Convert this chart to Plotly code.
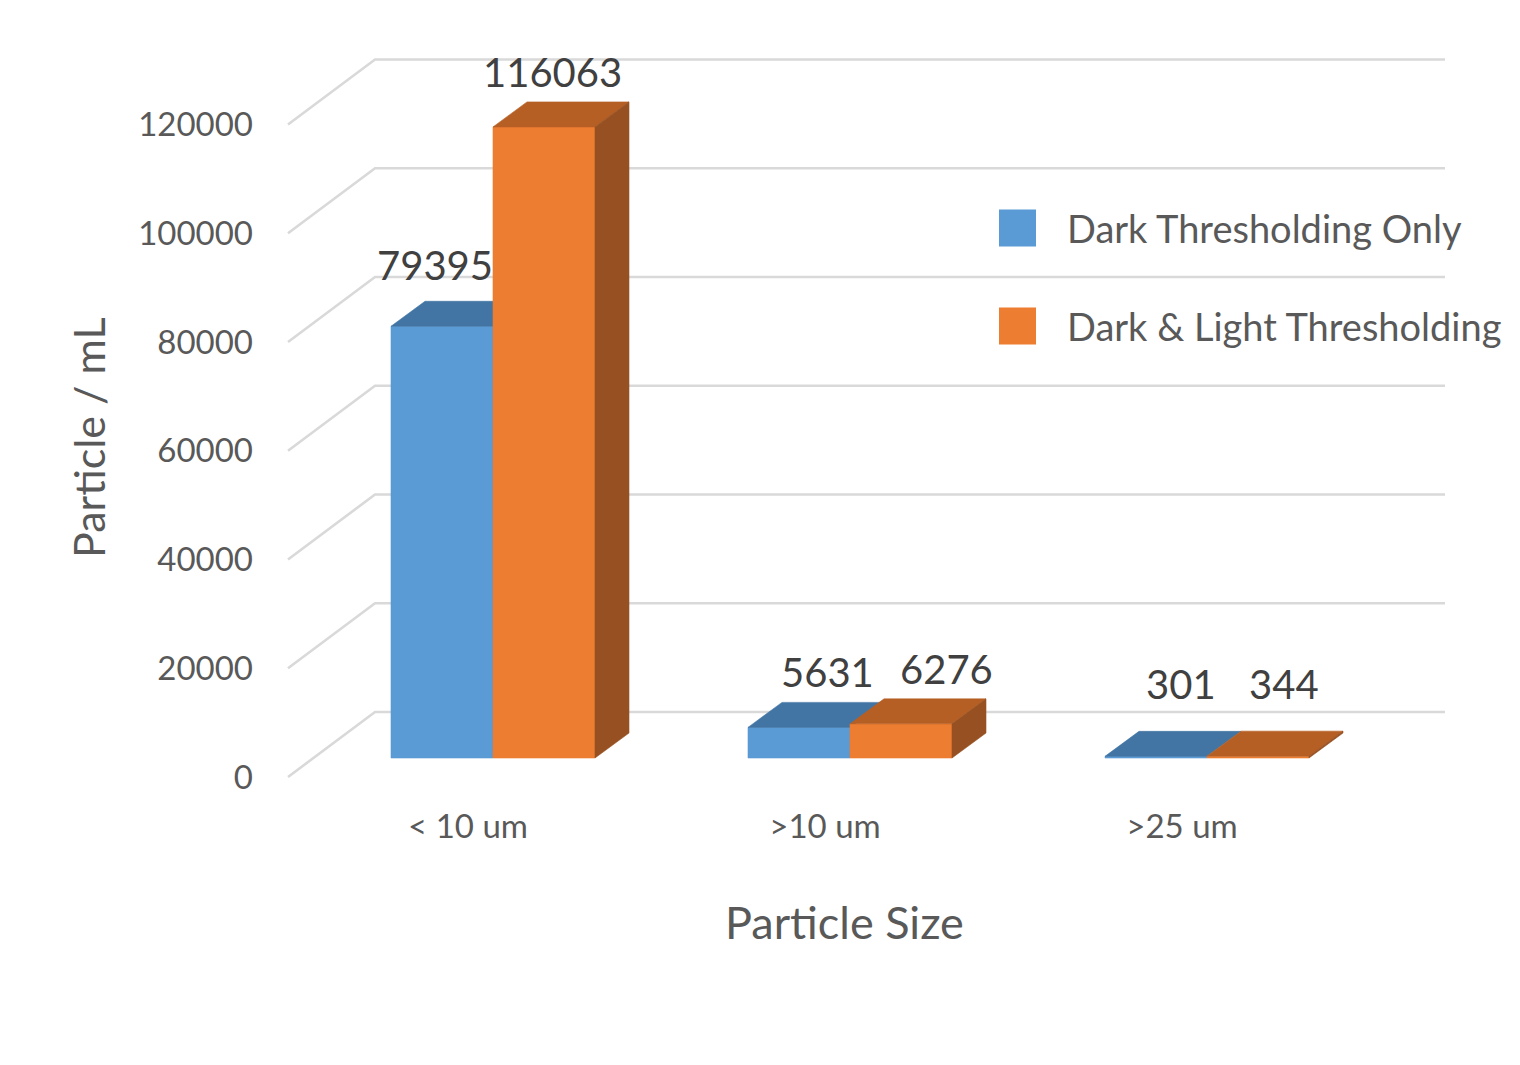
import plotly.graph_objects as go

# ---------------- data ----------------
categories = ["< 10 um", ">10 um", ">25 um"]
series_names = ["Dark Thresholding Only", "Dark & Light Thresholding"]
dark_only = [79395, 5631, 301]
dark_light = [116063, 6276, 344]
y_tick_values = [0, 20000, 40000, 60000, 80000, 100000, 120000]
x_title = "Particle Size"
y_title = "Particle / mL"

# ---------------- style / pseudo-3D scene geometry ----------------
# screen positions below are window pixels; the page body adds an 8 px margin
OFF = 8
W, H = 1512, 1057
M_L, M_R, M_T, M_B = 254, 0, 12, 265
PLOT_W = W - M_L - M_R
PLOT_H = H - M_T - M_B
PX_PER_VAL = 108.75 / 20000      # vertical scale of the value axis
CAT_PX = 357                      # horizontal step between categories
GROUP0_PX = 493                   # screen x of the first group's centre
BASE_PX = 758                     # screen y of the bars' front baseline
BAR_PX = 102                      # bar front width
DEPTH_DX, DEPTH_DY = 34, 25       # projected depth of a bar
FRONT_DX, FRONT_DY = -25, 19      # bar plane -> front edge of floor
BACK_DX, BACK_DY = 62, -46        # bar plane -> back wall
WALL_LEFT_PX = 313                # left wall edge in the bar plane
WALL_RIGHT_PX = 1445

FONT = "Lato, 'Open Sans', sans-serif"
AXIS_COLOR = "#595959"
LABEL_COLOR = "#404040"
GRID_COLOR = "#D9D9D9"

colors = {
    "front": ["#5B9BD5", "#ED7D31"],
    "top": ["#4275A4", "#B65F25"],
    "side": ["#2F5A82", "#975021"],
}
# (x, y) pixel nudges of the value labels, per series and category
label_nudges = [
    [(-24, 36), (11, 30), (8, 47)],
    [(-9, 30), (28, 30), (9, 47)],
]


def dx(px):
    return px / CAT_PX


def dv(px):
    # screen pixels (positive = up) -> value units
    return px / PX_PER_VAL


plot_left_win = OFF + M_L
plot_right_win = OFF + W - M_R
plot_top_win = OFF + M_T
plot_bottom_win = OFF + M_T + PLOT_H

x_range = [dx(plot_left_win - GROUP0_PX), dx(plot_right_win - GROUP0_PX)]
y_range = [dv(BASE_PX - plot_bottom_win), dv(BASE_PX - plot_top_win)]

bw = dx(BAR_PX)
ddx, ddy = dx(DEPTH_DX), dv(DEPTH_DY)

fig = go.Figure()

# ---- gridlines on the left wall and back wall ----
gx, gy = [], []
x_left = dx(WALL_LEFT_PX - GROUP0_PX)
for t in y_tick_values:
    gx += [x_left + dx(FRONT_DX), x_left + dx(BACK_DX), dx(WALL_RIGHT_PX - GROUP0_PX), None]
    gy += [t - dv(FRONT_DY), t - dv(BACK_DY), t - dv(BACK_DY), None]
fig.add_trace(go.Scatter(x=gx, y=gy, mode="lines", line=dict(color=GRID_COLOR, width=2.6),
                         hoverinfo="skip", showlegend=False))

series_values = [dark_only, dark_light]
cat_pos = list(range(len(categories)))


def poly_trace(xs, ys, color, name=None):
    return go.Scatter(x=xs, y=ys, mode="lines", fill="toself", fillcolor=color,
                      line=dict(width=0.6, color=color), name=name,
                      hoverinfo="skip", showlegend=False)


annotations_values = []
for s, (name, vals) in enumerate(zip(series_names, series_values)):
    centres = [c + (s - 0.5) * bw for c in cat_pos]
    # front faces
    fx, fy = [], []
    for c, v in zip(centres, vals):
        x0, x1 = c - bw / 2, c + bw / 2
        fx += [x0, x1, x1, x0, x0, None]
        fy += [0, 0, v, v, 0, None]
    fig.add_trace(poly_trace(fx, fy, colors["front"][s], name))
    # top faces
    tx, ty = [], []
    for c, v in zip(centres, vals):
        x0, x1 = c - bw / 2, c + bw / 2
        tx += [x0, x1, x1 + ddx, x0 + ddx, x0, None]
        ty += [v, v, v + ddy, v + ddy, v, None]
    fig.add_trace(poly_trace(tx, ty, colors["top"][s]))
    # right side faces (visible only for the right-hand series)
    if s == len(series_names) - 1:
        sx, sy = [], []
        for c, v in zip(centres, vals):
            x1 = c + bw / 2
            sx += [x1, x1 + ddx, x1 + ddx, x1, x1, None]
            sy += [0, ddy, v + ddy, v, 0, None]
        fig.add_trace(poly_trace(sx, sy, colors["side"][s]))
    # value labels
    for k, (c, v) in enumerate(zip(centres, vals)):
        nx, ny = label_nudges[s][k]
        fig.add_annotation(x=c + ddx / 2, y=v + ddy, text=f"{v}", showarrow=False,
                           xanchor="center", yanchor="middle", xshift=nx, yshift=ny,
                           font=dict(family=FONT, size=40, color=LABEL_COLOR))


def to_paper_x(px):
    return (px - plot_left_win) / PLOT_W


def to_paper_y(py):
    return (plot_bottom_win - py) / PLOT_H


# ---- legend (large square swatches like the original) ----
legend_rows = [228, 326]
for s, name in enumerate(series_names):
    cy = legend_rows[s]
    fig.add_shape(type="rect", xref="paper", yref="paper",
                  x0=to_paper_x(999), x1=to_paper_x(1036),
                  y0=to_paper_y(cy + 18.5), y1=to_paper_y(cy - 18.5),
                  fillcolor=colors["front"][s], line=dict(width=0), layer="above")
    fig.add_annotation(xref="paper", yref="paper", x=to_paper_x(1065), y=to_paper_y(cy),
                       text=name, showarrow=False, xanchor="left", yanchor="middle",
                       font=dict(family=FONT, size=38, color=AXIS_COLOR))

# ---- axis titles ----
fig.add_annotation(xref="paper", yref="paper", x=to_paper_x(88), y=to_paper_y(438),
                   text=y_title, textangle=-90, showarrow=False,
                   xanchor="center", yanchor="middle",
                   font=dict(family=FONT, size=43, color=AXIS_COLOR))
fig.add_annotation(xref="paper", yref="paper", x=to_paper_x(844), y=to_paper_y(922),
                   text=x_title, showarrow=False, xanchor="center", yanchor="middle",
                   font=dict(family=FONT, size=45, color=AXIS_COLOR))

fig.update_layout(
    width=W, height=H, autosize=False,
    margin=dict(l=M_L, r=M_R, t=M_T, b=M_B, pad=0),
    paper_bgcolor="white", plot_bgcolor="white",
    showlegend=False,
    font=dict(family=FONT, color=AXIS_COLOR),
    xaxis=dict(range=x_range, showgrid=False, zeroline=False, showline=False, ticks="",
               tickmode="array", tickvals=[c + dx(FRONT_DX) for c in cat_pos], ticktext=categories,
               tickfont=dict(family=FONT, size=33, color=AXIS_COLOR), ticklabelstandoff=4,
               fixedrange=True),
    yaxis=dict(range=y_range, showgrid=False, zeroline=False, showline=False, ticks="",
               tickmode="array", tickvals=[t - dv(FRONT_DY) for t in y_tick_values],
               ticktext=[str(t) for t in y_tick_values],
               tickfont=dict(family=FONT, size=33, color=AXIS_COLOR), ticklabelstandoff=8,
               fixedrange=True),
)

fig.write_html("out.html")
